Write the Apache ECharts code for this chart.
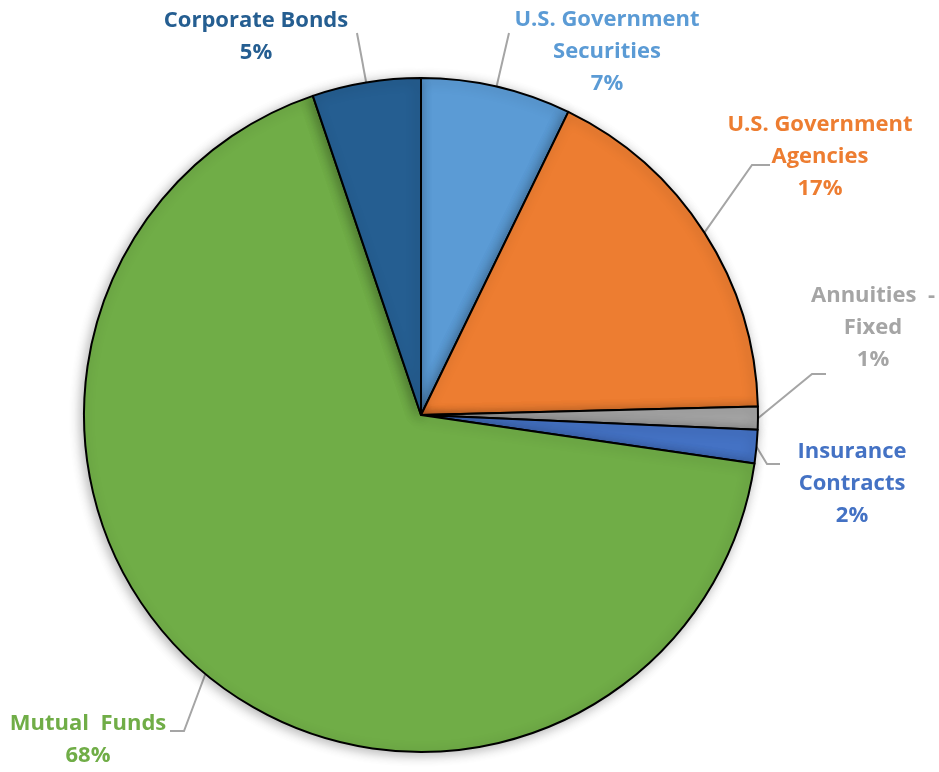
<!DOCTYPE html>
<html><head><meta charset="utf-8">
<script src="https://cdn.jsdelivr.net/npm/echarts@6/dist/echarts.min.js"></script>
<style>html,body{margin:0;padding:0;background:#fff}#c{width:939px;height:772px}</style>
</head><body><div id="c"></div>
<script>
const categories = ["U.S. Government\nSecurities", "U.S. Government\nAgencies", "Annuities  -\nFixed", "Insurance\nContracts", "Mutual  Funds", "Corporate Bonds"];
const values = [7.2, 17.4, 1.1, 1.6, 67.5, 5.2];
const colors = ["#5B9BD5", "#ED7D31", "#A5A5A5", "#4472C4", "#70AD47", "#255E91"];

// layout: label centers and leader-line bends relative to label centers
const labelPos = [[607, 52], [820, 157], [873, 328], [852, 484], [88, 740], [256, 37]];
const leaderBends = [
  [[-98, -19]],
  [[-68, 8], [-50, 8]],
  [[-61, 46], [-47, 46]],
  [[-85, -20], [-72, -20]],
  [[96, -9], [82, -9]],
  [[101, -4]]
];

const chart = echarts.init(document.getElementById('c'));
chart.setOption({
  backgroundColor: '#fff',
  animation: false,
  series: [{
    type: 'pie',
    center: [421, 415],
    radius: 337,
    startAngle: 90,
    clockwise: true,
    percentPrecision: 0,
    data: categories.map((n, i) => ({
      name: n, value: values[i],
      itemStyle: { color: colors[i] },
      label: { color: colors[i] }
    })),
    itemStyle: { borderColor: '#000', borderWidth: 2, shadowBlur: 12, shadowColor: 'rgba(0,0,0,0.3)', shadowOffsetX: -2, shadowOffsetY: 2 },
    label: {
      show: true, position: 'outside',
      formatter: '{b}\n{d}%',
      fontFamily: 'Open Sans', fontWeight: 'bold', fontSize: 22, lineHeight: 32, align: 'center'
    },
    labelLine: { show: true, length: 20, length2: 15, lineStyle: { color: '#A5A5A5', width: 2 } },
    labelLayout: function (p) {
      const i = p.dataIndex;
      const pos = labelPos[i];
      const out = { x: pos[0], y: pos[1], align: 'center', verticalAlign: 'middle' };
      if (p.labelLinePoints && p.labelLinePoints.length) {
        const a = p.labelLinePoints[0];
        const pts = [a];
        leaderBends[i].forEach(b => pts.push([pos[0] + b[0], pos[1] + b[1]]));
        if (pts.length === 2) pts.splice(1, 0, [(pts[0][0] + pts[1][0]) / 2, (pts[0][1] + pts[1][1]) / 2]);
        out.labelLinePoints = pts;
      }
      return out;
    }
  }]
});
</script></body></html>
